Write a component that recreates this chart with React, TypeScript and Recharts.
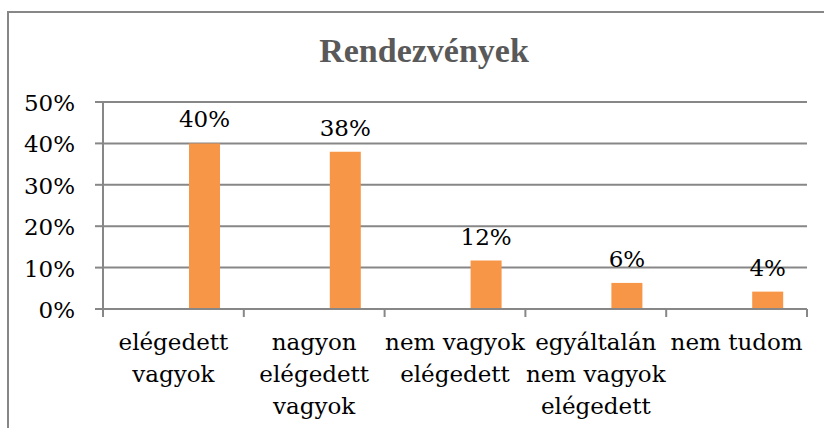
import { Bar, BarChart, CartesianGrid, LabelList, XAxis, YAxis } from "recharts";

const categories = [
  "elégedett\nvagyok",
  "nagyon\nelégedett\nvagyok",
  "nem vagyok\nelégedett",
  "egyáltalán\nnem vagyok\nelégedett",
  "nem tudom",
];
// Excel left two empty series in front of the real one
const emptySeries1: (number | null)[] = [null, null, null, null, null];
const emptySeries2: (number | null)[] = [null, null, null, null, null];
const rendezvenyek = [0.4, 0.38, 0.117, 0.063, 0.042];
const yTicks = [0, 0.1, 0.2, 0.3, 0.4, 0.5];

const data = categories.map((name, i) => ({
  name,
  s1: emptySeries1[i],
  s2: emptySeries2[i],
  value: rendezvenyek[i],
}));

const FONT = "'DejaVu Serif', serif";
const GRID = "#878787";
const pct = (v: number) => `${Math.round(v * 100)}%`;

function CategoryTick(props: any) {
  const { x, y, payload, index } = props;
  const half = payload?.offset || 70.4;
  const lines = String(payload.value).split("\n");
  return (
    <g>
      <line x1={x - half} y1={y} x2={x - half} y2={y + 8} stroke={GRID} strokeWidth={2} />
      {index === categories.length - 1 && (
        <line x1={x + half} y1={y} x2={x + half} y2={y + 8} stroke={GRID} strokeWidth={2} />
      )}
      <text x={x} y={y + 41} textAnchor="middle" fill="#000" fontSize={23} fontFamily={FONT}>
        {lines.map((l, i) => (
          <tspan key={i} x={x} dy={i === 0 ? 0 : 32}>
            {l}
          </tspan>
        ))}
      </text>
    </g>
  );
}

function PercentTick(props: any) {
  const { x, y, payload } = props;
  return (
    <text x={x} y={y + 9} textAnchor="end" fill="#000" fontSize={23} fontFamily={FONT}>
      {pct(payload.value)}
    </text>
  );
}

export default function App() {
  return (
    <div style={{ position: "absolute", left: 0, top: 0, width: 824, height: 428, overflow: "hidden", background: "#fff" }}>
      <div
        style={{
          position: "absolute",
          left: 7,
          top: 11,
          width: 840,
          height: 440,
          border: "2px solid #878787",
          boxSizing: "border-box",
        }}
      />
      <div
        style={{
          position: "absolute",
          left: 0,
          top: 34,
          width: 848,
          textAlign: "center",
          fontFamily: "'Liberation Serif', serif",
          fontWeight: "bold",
          fontSize: 34,
          lineHeight: 1,
          color: "#595959",
        }}
      >
        Rendezvények
      </div>
      <div style={{ position: "absolute", left: 0, top: 0 }}>
        <BarChart
          width={824}
          height={428}
          data={data}
          margin={{ top: 102, right: 17, left: 23, bottom: 19 }}
          barSize={31}
          barGap={0}
        >
          <CartesianGrid vertical={false} stroke={GRID} strokeWidth={2} />
          <XAxis
            dataKey="name"
            height={100}
            interval={0}
            tickLine={false}
            tickSize={0}
            tickMargin={0}
            axisLine={{ stroke: GRID, strokeWidth: 2 }}
            tick={<CategoryTick />}
          />
          <YAxis
            width={80}
            domain={[0, 0.5]}
            ticks={yTicks}
            tickSize={8}
            tickMargin={20}
            tickLine={{ stroke: GRID, strokeWidth: 2 }}
            axisLine={{ stroke: GRID, strokeWidth: 2 }}
            tick={<PercentTick />}
          />
          <Bar dataKey="s1" fill="#4F81BD" isAnimationActive={false} />
          <Bar dataKey="s2" fill="#C0504D" isAnimationActive={false} />
          <Bar dataKey="value" fill="#F79646" isAnimationActive={false}>
            <LabelList
              dataKey="value"
              position="top"
              offset={16}
              formatter={(v: any) => pct(Number(v))}
              fill="#000"
              fontSize={23}
              fontFamily={FONT}
            />
          </Bar>
        </BarChart>
      </div>
    </div>
  );
}
